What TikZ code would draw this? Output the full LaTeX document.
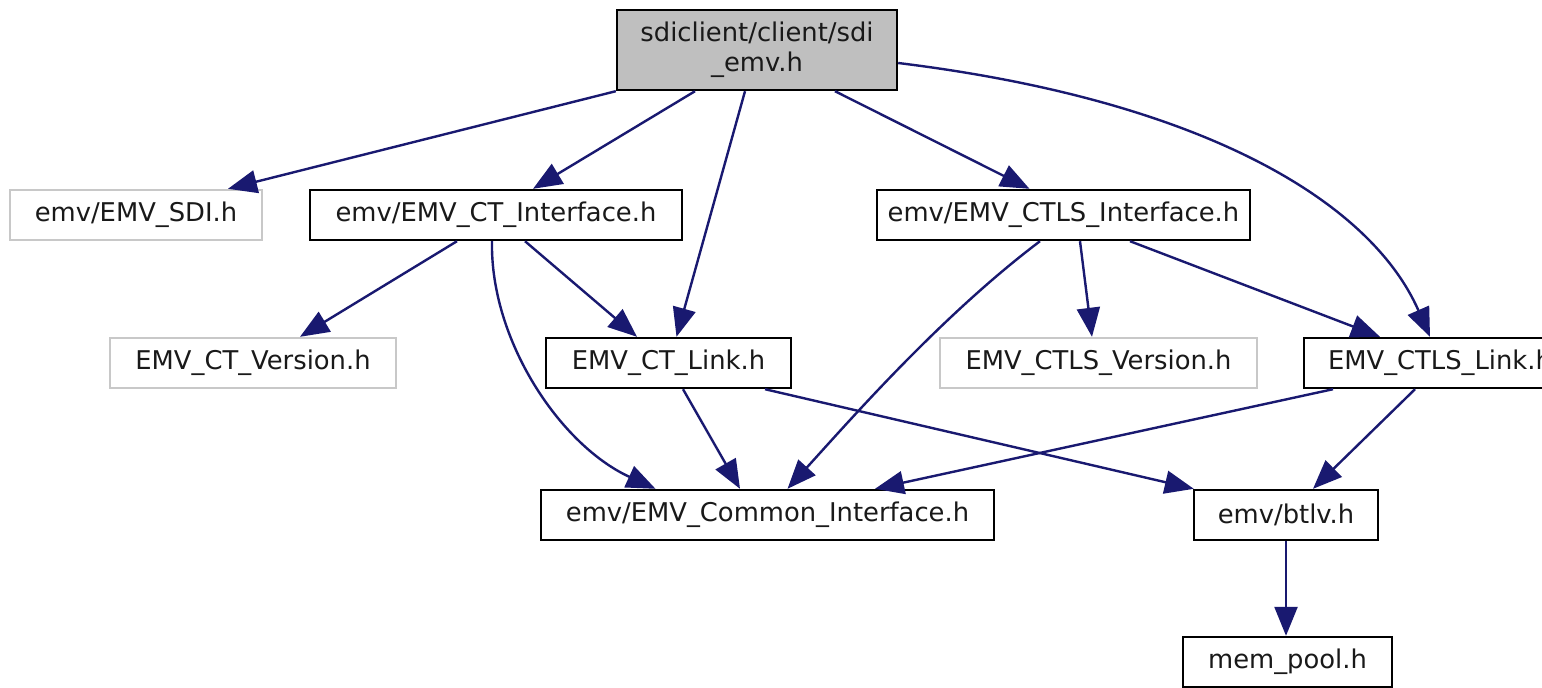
\documentclass[tikz,border=0pt]{standalone}
\usepackage{fontspec}
\setmainfont{DejaVu Sans}
\usetikzlibrary{arrows.meta}
\definecolor{edgeblue}{HTML}{191970}
\definecolor{boxgray}{HTML}{BFBFBF}
\definecolor{lightframe}{HTML}{C8C8C8}
\tikzset{
  filebox/.style={draw=black, line width=1.2pt, rectangle, inner sep=0pt, minimum height=25pt,
    font=\fontsize{12.9}{15}\selectfont, text=black!90, align=center},
  extbox/.style={filebox, draw=lightframe},
  mainbox/.style={filebox, fill=boxgray, minimum height=40pt},
  dep/.style={draw=edgeblue, line width=1.2pt, -{Triangle[length=14.5pt,width=11.5pt]}, edgeblue}
}
\begin{document}
\begin{tikzpicture}[x=0.5pt,y=-0.5pt]
\clip (0,0) rectangle (1542,687);
\fill[white] (0,0) rectangle (1542,687);
\node[mainbox, minimum width=140pt] (top) at (757,50) {sdiclient/client/sdi\\\_emv.h};
\node[extbox, minimum width=126pt] (sdi) at (136,215) {emv/EMV\_SDI.h};
\node[filebox, minimum width=186pt] (ctif) at (496,215) {emv/EMV\_CT\_Interface.h};
\node[filebox, minimum width=186.5pt] (ctlsif) at (1063.5,215) {emv/EMV\_CTLS\_Interface.h};
\node[extbox, minimum width=143pt] (ctver) at (253,363) {EMV\_CT\_Version.h};
\node[filebox, minimum width=122.5pt] (ctlink) at (668.5,363) {EMV\_CT\_Link.h};
\node[extbox, minimum width=158.5pt] (ctlsver) at (1098.5,363) {EMV\_CTLS\_Version.h};
\node[filebox, minimum width=136pt] (ctlslink) at (1440,363) {EMV\_CTLS\_Link.h};
\node[filebox, minimum width=226.5pt] (common) at (767.5,515) {emv/EMV\_Common\_Interface.h};
\node[filebox, minimum width=92pt] (btlv) at (1286,515) {emv/btlv.h};
\node[filebox, minimum width=104.5pt] (mempool) at (1287.5,662) {mem\_pool.h};

\draw[dep] (top.south west) -- ([xshift=46pt]sdi.north);
\draw[dep] ([xshift=-31pt]top.south) -- ([xshift=18.5pt]ctif.north);
\draw[dep] ([xshift=-6pt]top.south) -- ([xshift=4pt]ctlink.north);
\draw[dep] ([xshift=39pt]top.south) -- ([xshift=-17pt]ctlsif.north);
\draw[dep] ([yshift=-6.5pt]top.east) .. controls (1200,100) and (1370,200) .. ([xshift=-5pt]ctlslink.north);

\draw[dep] ([xshift=-19.5pt]ctif.south) -- ([xshift=23.5pt]ctver.north);
\draw[dep] ([xshift=14.5pt]ctif.south) -- ([xshift=-15.75pt]ctlink.north);
\draw[dep] ([xshift=-2pt]ctif.south) .. controls (490,340) and (560,445) .. ([xshift=-56pt]common.north);

\draw[dep] ([xshift=-11.75pt]ctlsif.south) .. controls (942,315) and (850,420) .. ([xshift=10pt]common.north);
\draw[dep] ([xshift=8.25pt]ctlsif.south) -- ([xshift=-3.25pt]ctlsver.north);
\draw[dep] ([xshift=33.25pt]ctlsif.south) -- ([xshift=-30pt]ctlslink.north);

\draw[dep] ([xshift=7.25pt]ctlink.south) -- ([xshift=-13.75pt]common.north);
\draw[dep] ([xshift=48.25pt]ctlink.south) -- ([xshift=0.5pt]btlv.north west);

\draw[dep] ([xshift=-53.5pt]ctlslink.south) -- ([xshift=53.75pt]common.north);
\draw[dep] ([xshift=-12.5pt]ctlslink.south) -- ([xshift=13.5pt]btlv.north);

\draw[dep] (btlv.south) -- (btlv.south |- mempool.north);
\end{tikzpicture}
\end{document}
